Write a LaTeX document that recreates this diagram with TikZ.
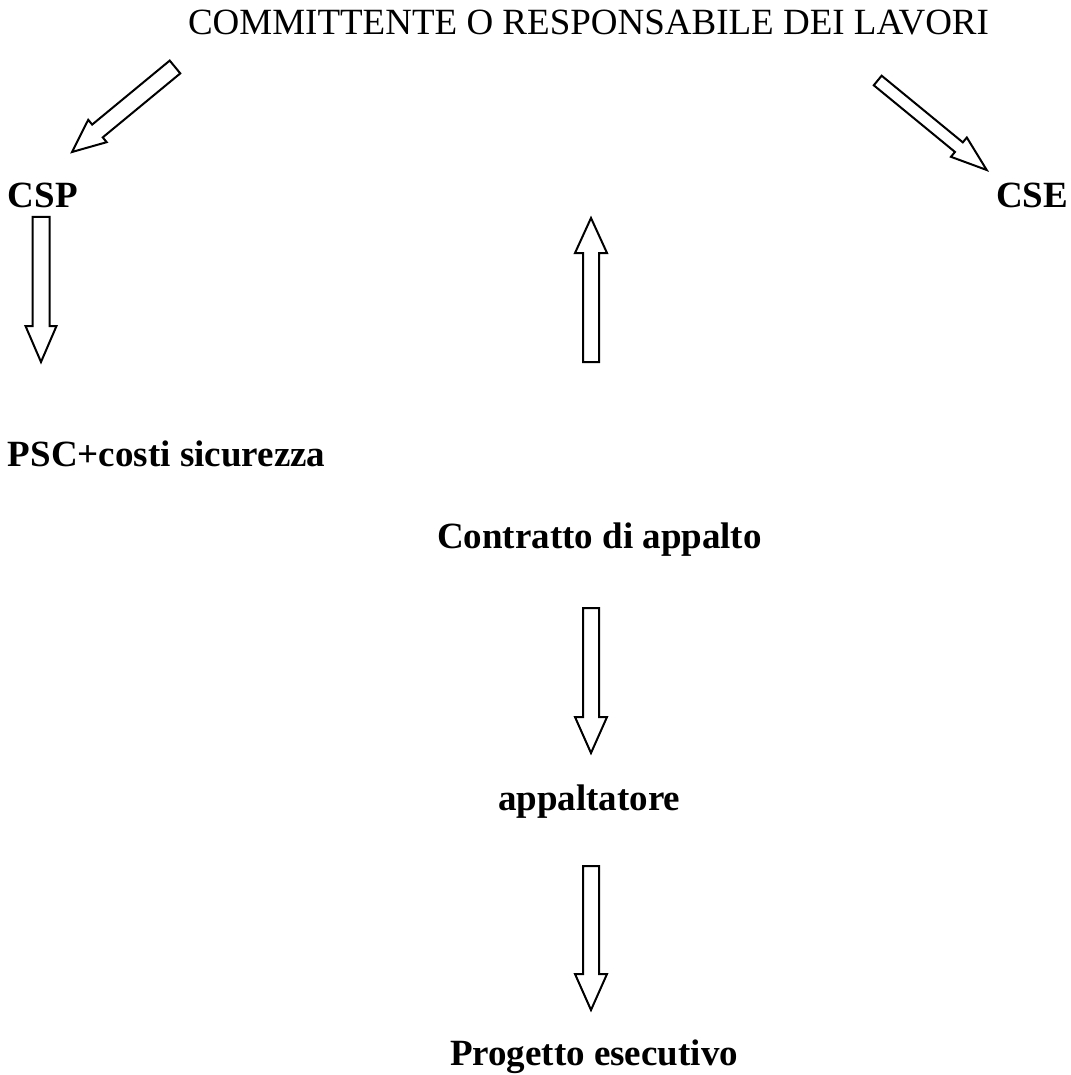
\documentclass[tikz,border=0pt]{standalone}
\usepackage{fontspec}
\setmainfont{Liberation Serif}
\usetikzlibrary{calc}
\tikzset{
  lbl/.style={inner sep=0pt, outer sep=0pt, anchor=base west, font=\fontsize{18.5}{22}\selectfont},
  boldlbl/.style={lbl, font=\fontsize{18.5}{22}\selectfont\bfseries},
  blockarr/.style={draw=black, fill=white, line width=1pt, line join=miter}
}
% #1 tail, #2 tip, #3 shaft half-width, #4 head half-width, #5 head length
\newcommand\blockarrow[5]{%
  \coordinate (ba-h) at ($(#2)!#5!(#1)$);
  \draw[blockarr] ($(#1)!#3!90:(#2)$) -- ($(ba-h)!#3!90:(#2)$) -- ($(ba-h)!#4!90:(#2)$) -- (#2)
    -- ($(ba-h)!#4!-90:(#2)$) -- ($(ba-h)!#3!-90:(#2)$) -- ($(#1)!#3!-90:(#2)$) -- cycle;}
\begin{document}
\begin{tikzpicture}[x=0.5pt, y=-0.5pt]
\useasboundingbox (0,0) rectangle (1070,1075);
% texts
\node[lbl] (title) at (188,35) {COMMITTENTE O RESPONSABILE DEI LAVORI};
\node[boldlbl] (csp) at (8,208) {CSP};
\node[boldlbl] (cse) at (996,207) {CSE};
\node[boldlbl] (psc) at (8,466) {PSC+costi sicurezza};
\node[boldlbl] (contr) at (437,548) {Contratto di appalto};
\node[boldlbl] (appalt) at (498,810) {appaltatore};
\node[boldlbl] (prog) at (450,1065) {Progetto esecutivo};
% arrow end points
\coordinate (a1s) at (175,67);    \coordinate (a1e) at (72,152);
\coordinate (a2s) at (877.7,80.5); \coordinate (a2e) at (986.7,170);
\coordinate (a3s) at (41,217);    \coordinate (a3e) at (41,362);
\coordinate (a4s) at (591,362);   \coordinate (a4e) at (591,218);
\coordinate (a5s) at (591,608);   \coordinate (a5e) at (591,753);
\coordinate (a6s) at (591,866);   \coordinate (a6e) at (591,1010);
% block arrows
\blockarrow{a1s}{a1e}{4.15pt}{7.25pt}{16.5pt}
\blockarrow{a2s}{a2e}{3.1pt}{6.25pt}{18pt}
\blockarrow{a3s}{a3e}{4.25pt}{7.75pt}{18pt}
\blockarrow{a4s}{a4e}{4pt}{8pt}{17.5pt}
\blockarrow{a5s}{a5e}{4pt}{8pt}{18pt}
\blockarrow{a6s}{a6e}{4pt}{8pt}{18pt}
\end{tikzpicture}
\end{document}
